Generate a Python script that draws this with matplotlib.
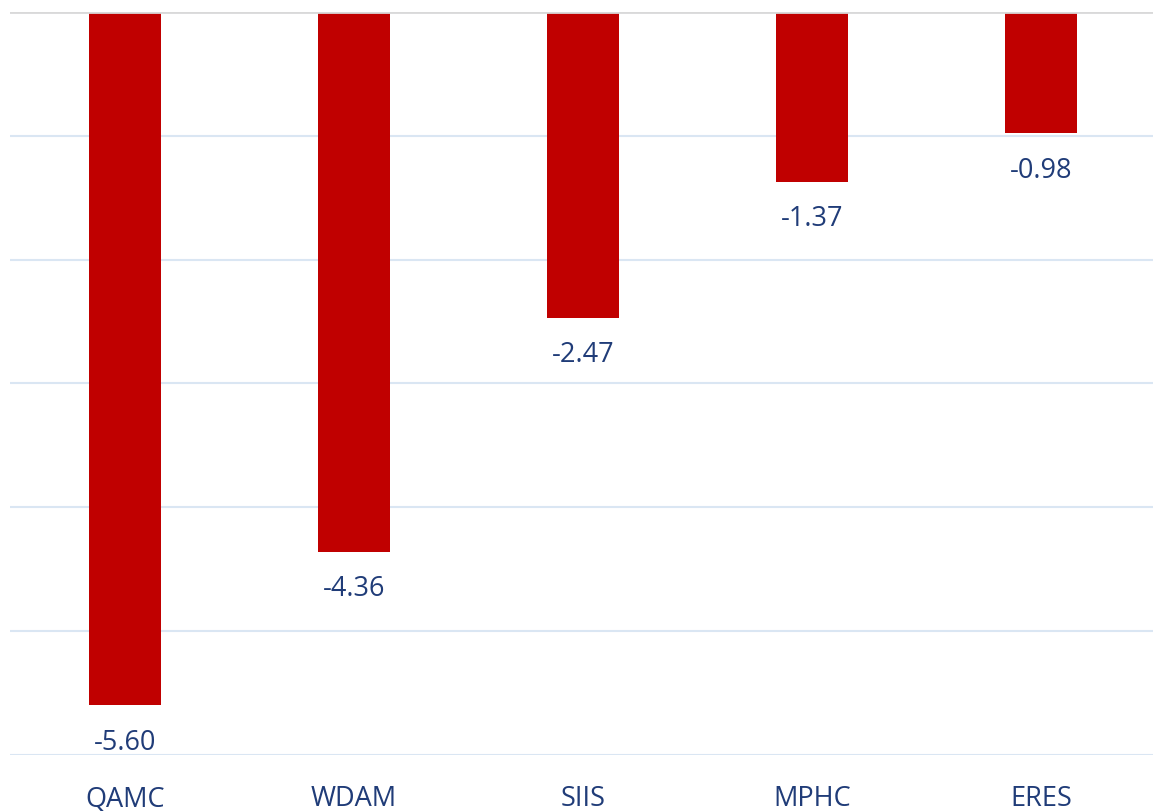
import matplotlib.pyplot as plt

plt.rcParams['font.family'] = ['Open Sans', 'DejaVu Sans']

categories = ["QAMC", "WDAM", "SIIS", "MPHC", "ERES"]
values = [-5.60, -4.36, -2.47, -1.37, -0.98]

BAR_C = "#C00000"
TXT_C = "#203C78"

fig = plt.figure(figsize=(11.53, 8.12), dpi=100)
ax = fig.add_axes([0.009, 0.069, 0.993, 0.915])

x = range(len(categories))
ax.bar(x, values, width=0.314, color=BAR_C, zorder=2)

for xi, v in zip(x, values):
    ax.annotate(f"{v:.2f}", (xi, v), xytext=(0, -16), textcoords="offset points",
                ha="center", va="top", fontsize=19.5, color=TXT_C)

ax.set_ylim(-6, 0)
ax.set_xlim(-0.5, len(categories) - 0.5)
ax.set_yticks([-6, -5, -4, -3, -2, -1, 0])
ax.yaxis.grid(True, color="#DAE6F3", lw=1.5, zorder=0)
ax.set_yticklabels([])
ax.tick_params(axis="y", length=0)
ax.tick_params(axis="x", length=0, pad=21, labelsize=19.5, labelcolor=TXT_C)
ax.set_xticks(list(x))
ax.set_xticklabels(categories)
ax.axhline(0, color="#D9D9D9", lw=2, zorder=3)
for s in ax.spines.values():
    s.set_visible(False)

fig.savefig("out.png", dpi=100)
